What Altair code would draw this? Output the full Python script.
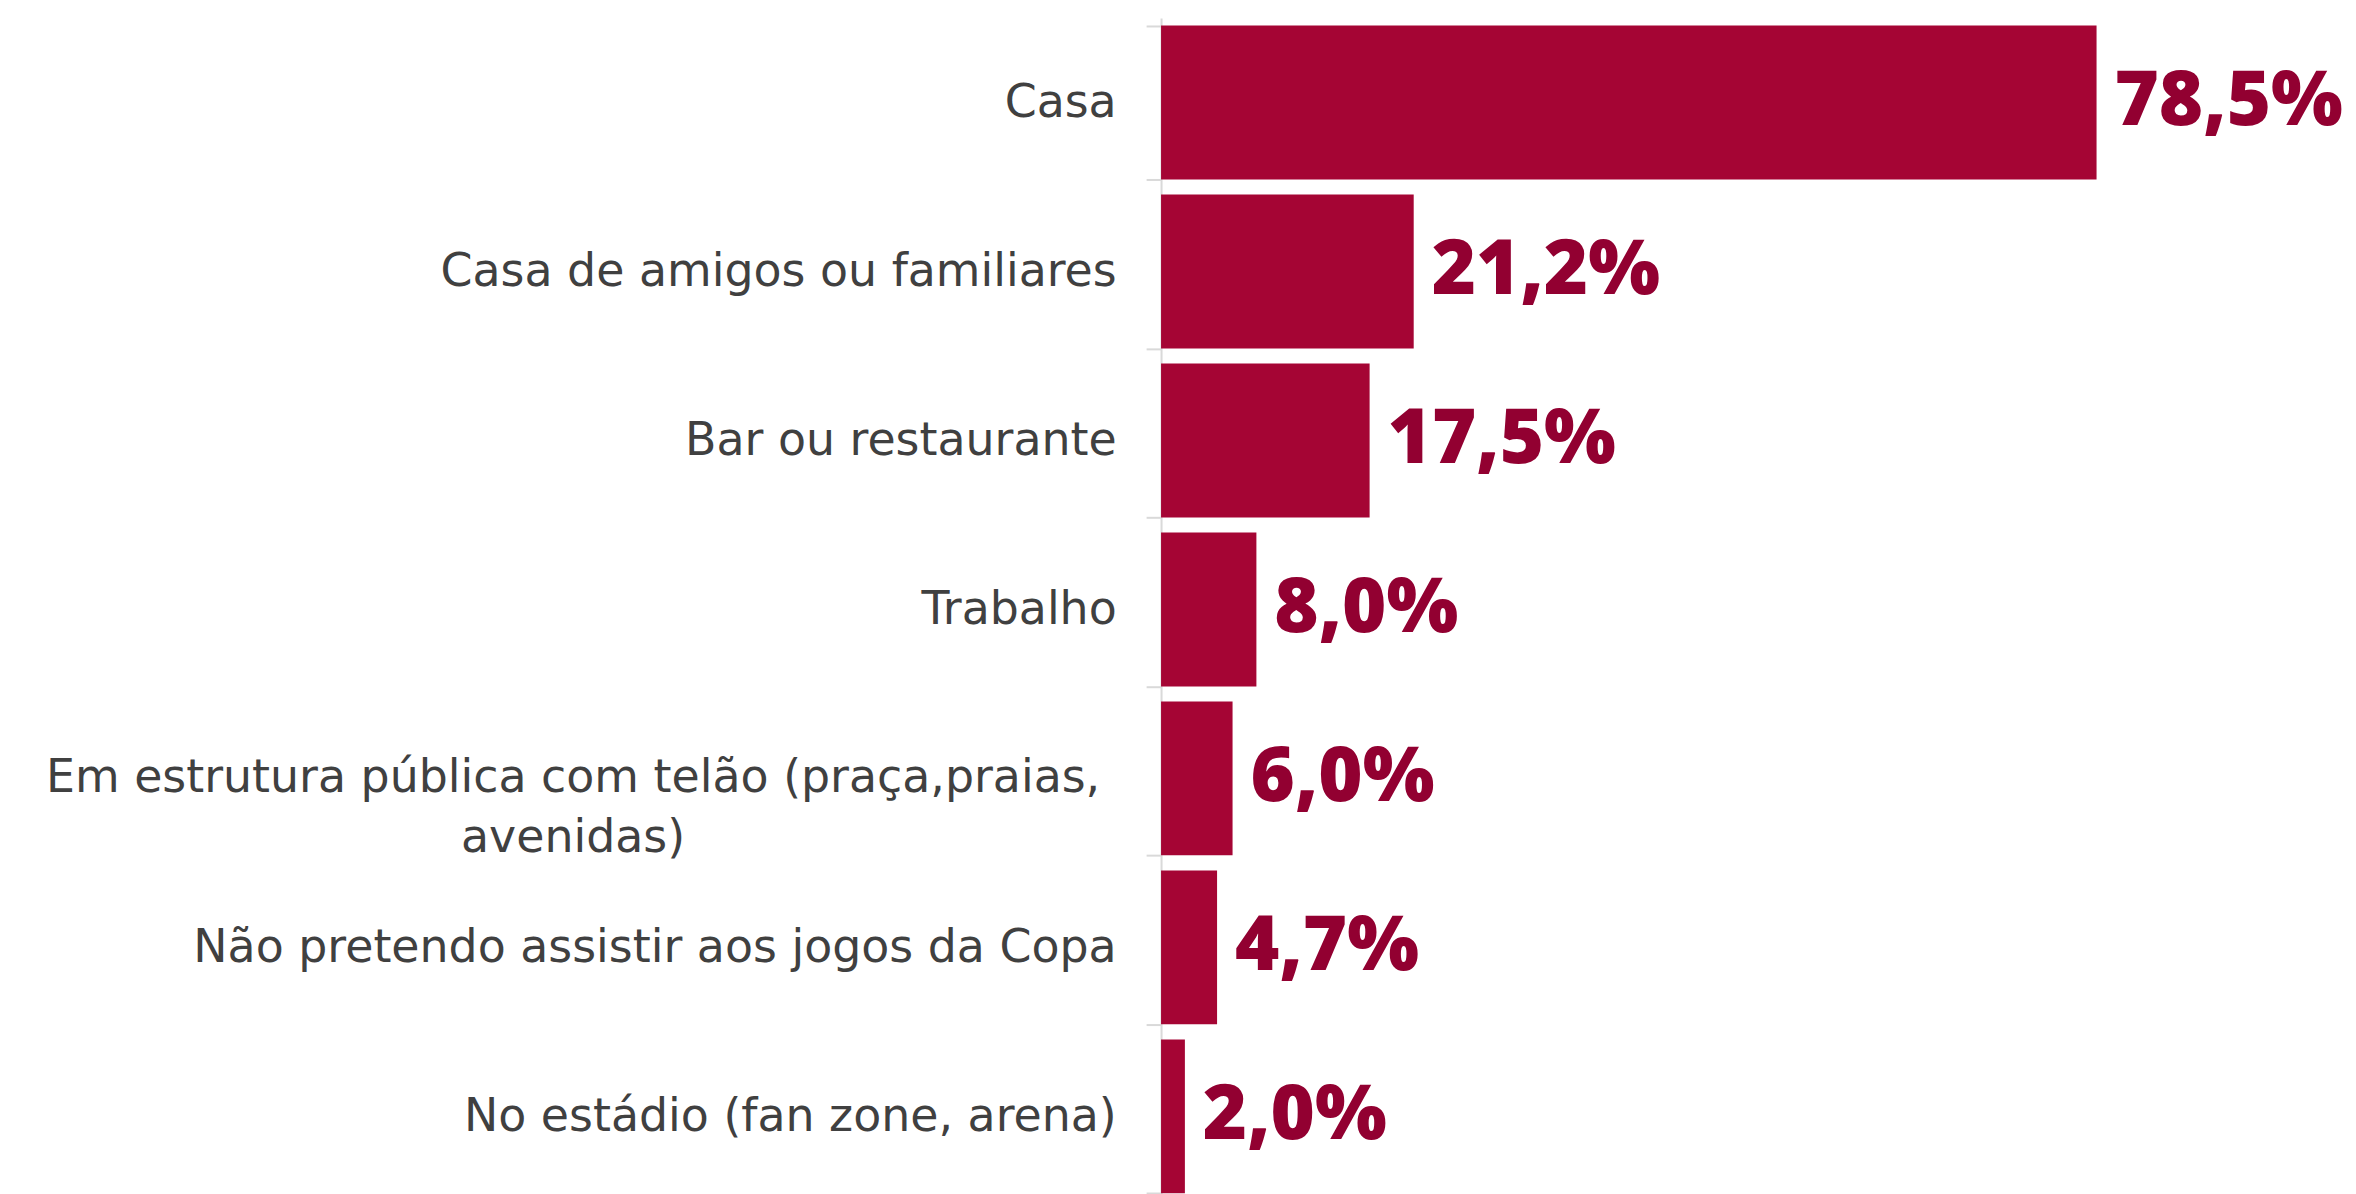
import altair as alt
import pandas as pd

categories = [
    "Casa",
    "Casa de amigos ou familiares",
    "Bar ou restaurante",
    "Trabalho",
    "Em estrutura pública com telão (praça,praias, avenidas)",
    "Não pretendo assistir aos jogos da Copa",
    "No estádio (fan zone, arena)",
]
values = [78.5, 21.2, 17.5, 8.0, 6.0, 4.7, 2.0]

df = pd.DataFrame({"cat": categories, "val": values})
df["lbl"] = [f"{v:.1f}%".replace(".", ",") for v in values]

LONG_TEST = "indexof(datum.label, 'praias') >= 0"
LABEL_FONT = "DejaVu Sans"
LABEL_SIZE = 46

y = alt.Y(
    "cat:N",
    sort=categories,
    title=None,
    scale=alt.Scale(paddingInner=0.09, paddingOuter=0.045),
    axis=alt.Axis(
        labelFont=LABEL_FONT,
        labelFontSize=LABEL_SIZE,
        labelColor="#404040",
        labelLimit=2000,
        labelPadding=30,
        labelExpr=f"{LONG_TEST} ? '' : datum.label",
        tickSize=15,
        tickColor="#d9d9d9",
        tickWidth=2,
        domainColor="#d9d9d9",
        domainWidth=2,
        tickBand="extent",
    ),
)
x = alt.X("val:Q", title=None, axis=None, scale=alt.Scale(domain=[0, 95], nice=False))

bars = alt.Chart(df).mark_bar(color="#A50534").encode(x=x, y=y)
text = alt.Chart(df).mark_text(
    align="left", baseline="middle", dx=18, font="Open Sans", fontSize=76,
    fontWeight=800, color="#920031"
).encode(x=x, y=alt.Y("cat:N", sort=categories), text="lbl:N")

# centred two-line category label (the axis labels are right-aligned)
long_label = alt.Chart(df).transform_filter(
    "indexof(datum.cat, 'praias') >= 0"
).transform_calculate(
    lines="split(replace(datum.cat, 'praias, ', 'praias,|'), '|')"
).mark_text(
    align="center", baseline="middle", font=LABEL_FONT, fontSize=LABEL_SIZE,
    color="#404040", lineHeight=60, dx=-590
).encode(x=alt.value(0), y=alt.Y("cat:N", sort=categories), text="lines:N")

chart = (bars + text + long_label).properties(
    width=1136, height=1187,
    autosize=alt.AutoSizeParams(type="none"),
    padding={"left": 1157, "top": 8, "right": 55, "bottom": 0},
).configure_view(stroke=None)

chart.save("out.html", embed_options={"renderer": "svg", "actions": False})
